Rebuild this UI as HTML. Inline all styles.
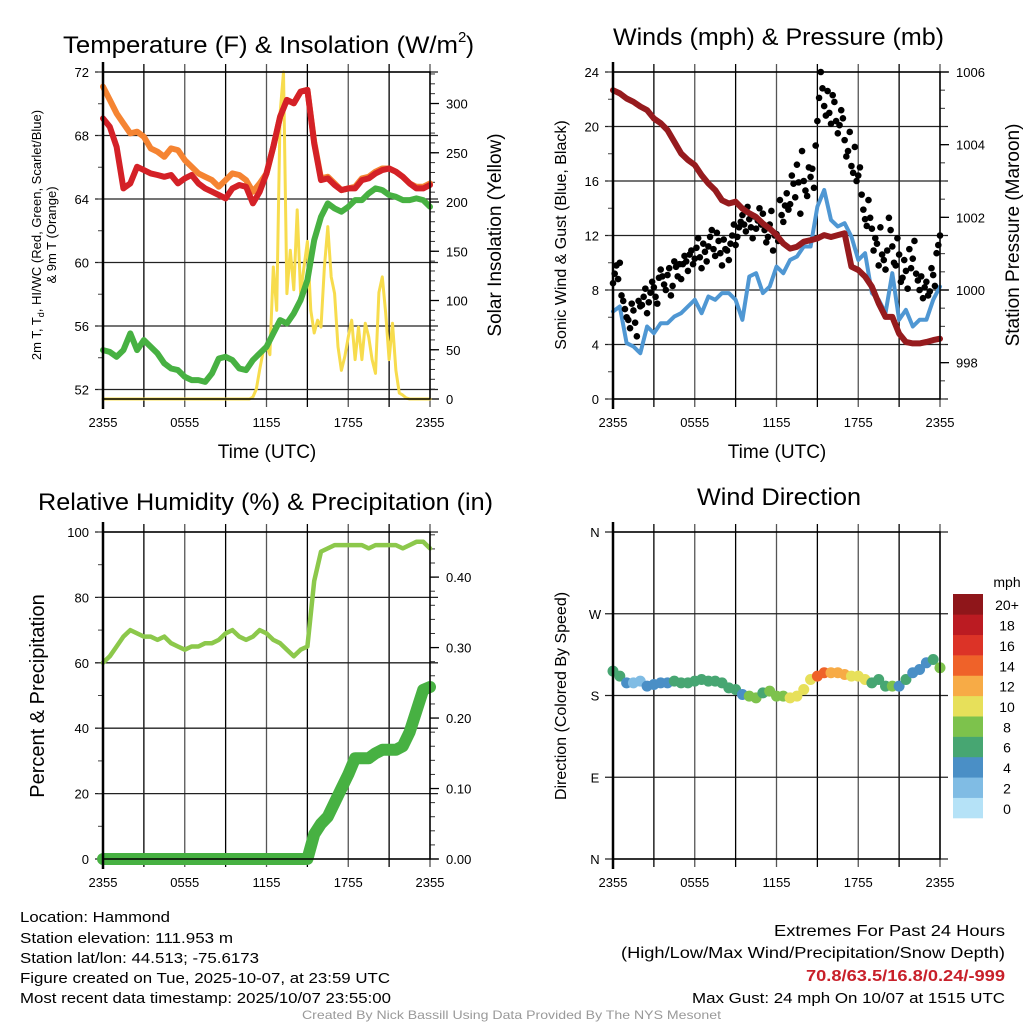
<!DOCTYPE html>
<html><head><meta charset="utf-8"><style>
html,body{margin:0;padding:0;background:#fff;}
svg{display:block;font-family:"Liberation Sans",sans-serif;}
</style></head><body>
<svg id="chart" width="1024" height="1024" viewBox="0 0 1024 1024" xmlns="http://www.w3.org/2000/svg">
<rect width="1024" height="1024" fill="#fff"/>
<g id="layer"></g>
<text x="63" y="53" font-size="24" textLength="395" lengthAdjust="spacingAndGlyphs">Temperature (F) &amp; Insolation (W/m</text>
<text x="458" y="42" font-size="15">2</text>
<text x="466" y="53" font-size="24">)</text>
<text x="613" y="45" font-size="24" textLength="331" lengthAdjust="spacingAndGlyphs">Winds (mph) &amp; Pressure (mb)</text>
<text x="38" y="510" font-size="24" textLength="455" lengthAdjust="spacingAndGlyphs">Relative Humidity (%) &amp; Precipitation (in)</text>
<text x="697" y="505" font-size="24" textLength="164" lengthAdjust="spacingAndGlyphs">Wind Direction</text>
<text x="267" y="458" font-size="19" text-anchor="middle">Time (UTC)</text>
<text x="777" y="458" font-size="19" text-anchor="middle">Time (UTC)</text>
<text transform="translate(41,235) rotate(-90)" font-size="13" text-anchor="middle">2m T, T<tspan font-size="9" dy="3">d</tspan><tspan dy="-3">, HI/WC (Red, Green, Scarlet/Blue)</tspan></text>
<text transform="translate(56,235) rotate(-90)" font-size="13" text-anchor="middle">&amp; 9m T (Orange)</text>
<text transform="translate(501,235) rotate(-90)" font-size="19" text-anchor="middle">Solar Insolation (Yellow)</text>
<text transform="translate(566,235) rotate(-90)" font-size="16" text-anchor="middle">Sonic Wind &amp; Gust (Blue, Black)</text>
<text transform="translate(1019,235) rotate(-90)" font-size="19" text-anchor="middle">Station Pressure (Maroon)</text>
<text transform="translate(44,696) rotate(-90)" font-size="20" text-anchor="middle">Percent &amp; Precipitation</text>
<text transform="translate(566,696) rotate(-90)" font-size="16" text-anchor="middle">Direction (Colored By Speed)</text>
<text x="1007" y="587" font-size="14" text-anchor="middle">mph</text>
<g font-size="14.5">
<text x="20" y="922" textLength="150" lengthAdjust="spacingAndGlyphs">Location: Hammond</text>
<text x="20" y="943" textLength="213" lengthAdjust="spacingAndGlyphs">Station elevation: 111.953 m</text>
<text x="20" y="963" textLength="239" lengthAdjust="spacingAndGlyphs">Station lat/lon: 44.513; -75.6173</text>
<text x="20" y="983" textLength="370" lengthAdjust="spacingAndGlyphs">Figure created on Tue, 2025-10-07, at 23:59 UTC</text>
<text x="20" y="1003" textLength="371" lengthAdjust="spacingAndGlyphs">Most recent data timestamp: 2025/10/07 23:55:00</text>
</g>
<g font-size="16">
<text x="1005" y="936" text-anchor="end" textLength="231" lengthAdjust="spacingAndGlyphs">Extremes For Past 24 Hours</text>
<text x="1005" y="958" text-anchor="end" textLength="384" lengthAdjust="spacingAndGlyphs">(High/Low/Max Wind/Precipitation/Snow Depth)</text>
<text x="1005" y="981" text-anchor="end" fill="#c8202a" font-weight="bold" textLength="199" lengthAdjust="spacingAndGlyphs">70.8/63.5/16.8/0.24/-999</text>
<text x="1005" y="1003" text-anchor="end" font-size="15" textLength="313" lengthAdjust="spacingAndGlyphs">Max Gust: 24 mph On 10/07 at 1515 UTC</text>
</g>
<text x="302" y="1019" font-size="12" fill="#999" textLength="419" lengthAdjust="spacingAndGlyphs">Created By Nick Bassill Using Data Provided By The NYS Mesonet</text>
</svg>
<script>
// ---- data (half-hourly from 2355 prev day to 2355) ----
const xTickLabels = ["2355","0555","1155","1755","2355"];
const tempTicks = [52,56,60,64,68,72];
const solarTicks = [0,50,100,150,200,250,300];
const windTicks = [0,4,8,12,16,20,24];
const pressTicks = [998,1000,1002,1004,1006];
const rhTicks = [0,20,40,60,80,100];
const precipTicks = ["0.00","0.10","0.20","0.30","0.40"];
const dirTickLabels = ["N","E","S","W","N"];
const colorLabels = ["0","2","4","6","8","10","12","14","16","18","20+"];
const colorBins = ["#b5e2f7","#80bce4","#4a8fc6","#47a672","#7dc24c","#e7e05a","#f7ab46","#ef6229","#dc3327","#bb1b22","#8f161a"];

const temp2m = [69.08,68.55,67.29,64.67,64.98,66.03,65.82,65.61,65.51,65.40,65.51,64.98,65.30,65.51,64.98,64.67,64.46,64.25,64.04,64.67,64.88,64.77,63.72,64.46,65.61,67.29,69.18,70.24,70.03,70.76,70.87,67.50,65.19,65.30,64.88,64.56,64.67,64.67,65.19,65.30,65.61,65.82,65.92,65.72,65.40,64.98,64.67,64.67,64.88];
const temp9m = [71.08,70.24,69.39,68.76,68.13,68.24,67.92,67.19,66.98,66.66,67.19,67.08,66.45,66.03,65.61,65.40,65.19,64.77,65.19,65.61,65.51,65.19,64.46,64.98,65.61,67.29,69.18,70.24,70.03,70.76,70.87,67.60,65.30,65.40,64.98,64.56,64.67,64.77,65.30,65.40,65.72,65.92,65.92,65.72,65.40,64.98,64.77,64.77,64.98];
const dewpoint = [54.48,54.37,54.06,54.48,55.53,54.48,55.11,54.69,54.27,53.64,53.32,53.22,52.80,52.59,52.59,52.48,53.01,53.95,54.06,53.85,53.32,53.22,53.85,54.27,54.69,55.53,56.37,56.16,56.79,57.63,58.89,61.41,62.88,63.72,63.41,63.20,63.51,63.93,63.93,64.35,64.67,64.56,64.25,64.14,63.93,63.93,64.04,63.93,63.51];
// solar at 15-minute resolution (97 values)
const solar = [0,0,0,0,0,0,0,0,0,0,0,0,0,0,0,0,0,0,0,0,0,0,0,0,0,0,0,0,0,0,0,0,0,0,0,0,0,0,0,0,0,0,0,0,2,10,30,48,55,45,134,90,290,332,107,151,111,192,107,134,160,90,67,80,73,134,175,124,107,53,29,43,63,80,40,73,40,77,63,40,26,108,124,87,40,77,29,6,4,1,0,0,0,0,0,0,0];

const windSpeed = [6.42,6.79,4.10,3.85,3.36,5.32,4.83,5.56,5.56,6.05,6.30,6.79,7.28,6.30,7.52,7.28,7.77,7.77,7.28,5.81,8.99,9.23,7.77,8.25,9.72,9.23,10.21,10.45,11.19,11.19,14.12,15.34,13.14,12.66,12.90,11.92,10.21,10.70,7.77,7.28,6.30,9.23,5.81,6.54,5.32,5.81,5.81,7.28,8.25];
// gusts at 15-minute resolution (97 values) and offset samples (96 values)
const gust = [8.5,9.8,10.0,7.2,6.0,5.2,6.5,4.6,6.8,7.5,6.3,7.8,8.2,7.0,9.5,8.4,9.1,7.6,10.1,9.0,8.8,10.5,9.4,10.9,10.3,11.8,9.6,10.8,11.2,12.4,10.5,11.6,9.8,11.0,10.2,12.0,11.3,12.6,13.5,12.3,13.2,11.8,12.5,14.0,13.6,11.5,12.8,10.9,12.1,14.6,13.0,15.1,14.3,15.8,17.2,13.6,16.0,14.9,16.3,15.5,20.4,24.0,21.5,22.6,20.2,21.8,19.5,21.2,19.0,18.2,17.1,18.5,16.4,15.0,13.2,14.6,12.5,11.8,9.8,10.6,9.5,13.3,11.2,9.8,10.6,8.9,9.4,11.0,10.3,9.2,8.0,7.4,8.6,7.9,9.1,10.7,12.0];
const gust2 = [9.2,8.8,7.6,6.6,5.8,7.0,5.6,7.2,6.9,8.1,7.1,8.6,7.5,8.9,9.0,8.0,9.6,8.3,9.7,9.9,9.9,10.1,10.6,9.9,11.1,10.4,11.4,10.1,11.9,11.0,12.2,10.7,11.7,10.9,11.4,12.8,11.9,13.0,12.8,14.1,12.6,13.4,13.1,12.8,12.4,11.9,13.8,12.0,11.6,13.5,14.2,13.9,16.4,14.8,15.9,18.2,15.3,17.0,16.9,18.6,22.1,22.8,20.8,21.0,22.3,20.4,20.1,20.6,17.8,19.6,16.6,16.0,17.0,13.9,12.7,13.3,10.9,11.4,12.6,10.2,10.9,12.4,10.0,11.8,8.6,10.2,8.1,9.6,11.6,8.7,9.0,8.2,7.6,9.6,8.3,11.3];
const pressure = [1005.50,1005.41,1005.27,1005.18,1005.05,1004.95,1004.72,1004.59,1004.40,1004.08,1003.76,1003.58,1003.44,1003.16,1002.93,1002.75,1002.47,1002.38,1002.43,1002.24,1002.11,1002.01,1001.83,1001.69,1001.51,1001.28,1001.14,1001.19,1001.33,1001.37,1001.42,1001.51,1001.46,1001.51,1001.56,1000.64,1000.55,1000.37,1000.09,999.63,999.26,999.26,998.80,998.57,998.53,998.53,998.57,998.62,998.66];

const rh = [60,62,65,68,70,69,68,68,67,68,66,65,64,65,65,66,66,67,69,70,68,67,68,70,69,67,66,64,62,64,65,85,94,95,96,96,96,96,96,95,96,96,96,96,95,96,97,97,95];
const precip = [0,0,0,0,0,0,0,0,0,0,0,0,0,0,0,0,0,0,0,0,0,0,0,0,0,0,0,0,0,0,0,0.035,0.05,0.06,0.08,0.10,0.12,0.143,0.143,0.143,0.15,0.155,0.155,0.155,0.16,0.18,0.21,0.24,0.244];

const windDir = [206.8,201.3,193.9,193.9,195.8,190.3,192.1,193.9,193.9,195.8,193.9,193.9,195.8,197.6,195.8,195.8,193.9,188.4,186.6,181.1,179.3,177.4,182.9,184.8,179.3,179.3,177.4,179.3,186.6,197.6,201.3,205.0,205.0,205.0,203.1,201.3,201.3,197.6,193.9,197.6,190.3,190.3,190.3,197.6,205.0,208.6,216.0,219.6,210.5];

// ---- helpers ----
const NS = "http://www.w3.org/2000/svg";
const layer = document.getElementById("layer");
function mk(tag, attrs, parent){
  const e = document.createElementNS(NS, tag);
  for (const k in attrs) e.setAttribute(k, attrs[k]);
  (parent||layer).appendChild(e);
  return e;
}
function linScale(d0,d1,r0,r1){ return v => r0 + (v-d0)*(r1-r0)/(d1-d0); }

const P = {
  tl:{x0:103,x1:430,y0:72,y1:399},
  tr:{x0:613,x1:940,y0:72,y1:399},
  bl:{x0:103,x1:430,y0:532,y1:859},
  br:{x0:613,x1:940,y0:532,y1:859}
};

function frame(p, name){
  const g = mk("g",{});
  
  
  for (let k=0;k<=8;k++){
    const x = p.x0 + k*(p.x1-p.x0)/8;
    mk("line",{x1:x,x2:x,y1:p.y0-8,y2:p.y1+8,stroke:k%2? "#000":"#555","stroke-width":1.3},g);
  }
  return g;
}
function hgrid(p, ys, g){
  ys.forEach(y=>mk("line",{x1:p.x0-8,x2:p.x1+8,y1:y,y2:y,stroke:"#222","stroke-width":1.3},g));
}
function border(p, name){
  const r = mk("rect",{x:p.x0,y:p.y0,width:p.x1-p.x0,height:p.y1-p.y0,fill:"none",stroke:"#000","stroke-width":1.5});
  
  
  mk("line",{x1:p.x0,x2:p.x0,y1:p.y0-10,y2:p.y1+10,stroke:"#000","stroke-width":2.5});
}
function xLabels(p, name){
  xTickLabels.forEach((t,k)=>{
    const x = p.x0 + k*(p.x1-p.x0)/4;
    const e = mk("text",{x:x,y:p.y1+28,"font-size":13,"text-anchor":"middle"});
    
    
    e.textContent = t;
  });
}
function yLabels(vals, sy, x, anchor, name, fmt){
  vals.forEach(v=>{
    const e = mk("text",{x:x,y:sy(+v)+5,"font-size":13,"text-anchor":anchor});
    
    
    e.textContent = fmt? fmt(v): v;
  });
}
function rightTicks(p, sy, vals, minorStep, lo, hi){
  for (let v=lo; v<=hi+1e-9; v+=minorStep){
    const y = sy(v); if (y<p.y0-0.5||y>p.y1+0.5) continue;
    mk("line",{x1:p.x1,x2:p.x1+5,y1:y,y2:y,stroke:"#333","stroke-width":1});
  }
  vals.forEach(v=>{ const y=sy(+v); mk("line",{x1:p.x1,x2:p.x1+9,y1:y,y2:y,stroke:"#000","stroke-width":1.3}); });
}
function leftMinor(p, sy, lo, hi, step){
  for (let v=lo; v<=hi+1e-9; v+=step){
    const y=sy(v); if (y<p.y0||y>p.y1) continue;
    mk("line",{x1:p.x0-5,x2:p.x0,y1:y,y2:y,stroke:"#444","stroke-width":1});
  }
}
function linePath(vals, sx, sy, attrs, name){
  let d=""; vals.forEach((v,i)=>{ d += (i?"L":"M")+sx(i).toFixed(1)+","+sy(v).toFixed(1); });
  const e = mk("path",Object.assign({d:d,fill:"none","stroke-linejoin":"round","stroke-linecap":"round"},attrs));
  
  
  return e;
}

// ---- Panel 1: temperature ----
(function(){
  const p=P.tl;
  const sx = linScale(0,48,p.x0,p.x1), sx15 = linScale(0,96,p.x0,p.x1);
  const sy = linScale(72,51.4,p.y0,p.y1);
  const sySol = linScale(0,332,p.y1,p.y0);
  const g = frame(p,"temp");
  hgrid(p, tempTicks.map(sy), g);
  leftMinor(p, sy, 52, 72, 2);
  rightTicks(p, sySol, solarTicks, 10, 0, 330);
  linePath(solar, sx15, sySol, {stroke:"#f7dc4d","stroke-width":3}, "solar-insolation-line");
  linePath(dewpoint, sx, sy, {stroke:"#47b142","stroke-width":6}, "dewpoint-line");
  linePath(temp9m, sx, sy, {stroke:"#f58432","stroke-width":6}, "temp-9m-line");
  linePath(temp2m, sx, sy, {stroke:"#d42127","stroke-width":6}, "temp-2m-line");
  border(p,"temp");
  xLabels(p,"temp");
  yLabels(tempTicks, sy, p.x0-14, "end", "temp-y-tick-label");
  yLabels(solarTicks, sySol, p.x1+16, "start", "solar-y-tick-label");
})();

// ---- Panel 2: wind & pressure ----
(function(){
  const p=P.tr;
  const sx = linScale(0,48,p.x0,p.x1), sx15 = linScale(0,96,p.x0,p.x1);
  const sy = linScale(0,24,p.y1,p.y0);
  const syP = linScale(997.0,1006,p.y1,p.y0);
  const g = frame(p,"wind");
  hgrid(p, windTicks.map(sy), g);
  leftMinor(p, sy, 0, 24, 2);
  rightTicks(p, syP, pressTicks, 0.5, 997, 1006);
  linePath(windSpeed, sx, sy, {stroke:"#4f97d3","stroke-width":4}, "sonic-wind-line");
  gust.forEach((v,i)=>{
    const c = mk("circle",{cx:sx15(i),cy:sy(v),r:3.3,fill:"#000"});
    
    
  });
  gust2.forEach((v,i)=>{
    const c = mk("circle",{cx:sx15(i+0.5),cy:sy(v),r:3.3,fill:"#000"});
    
    
  });
  linePath(pressure, sx, syP, {stroke:"#961b1e","stroke-width":6}, "pressure-line");
  border(p,"wind");
  xLabels(p,"wind");
  yLabels(windTicks, sy, p.x0-14, "end", "wind-y-tick-label");
  yLabels(pressTicks, syP, p.x1+16, "start", "pressure-y-tick-label");
})();

// ---- Panel 3: RH & precip ----
(function(){
  const p=P.bl;
  const sx = linScale(0,48,p.x0,p.x1);
  const sy = linScale(0,100,p.y1,p.y0);
  const syPr = linScale(0,0.464,p.y1,p.y0);
  const g = frame(p,"rh");
  hgrid(p, rhTicks.map(sy), g);
  leftMinor(p, sy, 0, 100, 10);
  rightTicks(p, syPr, precipTicks, 0.02, 0, 0.46);
  linePath(rh, sx, sy, {stroke:"#8cc84b","stroke-width":4.5}, "relative-humidity-line");
  linePath(precip, sx, syPr, {stroke:"#47b142","stroke-width":12}, "precipitation-line");
  border(p,"rh");
  xLabels(p,"rh");
  yLabels(rhTicks, sy, p.x0-14, "end", "rh-y-tick-label");
  yLabels(precipTicks, syPr, p.x1+16, "start", "precip-y-tick-label");
})();

// ---- Panel 4: wind direction ----
(function(){
  const p=P.br;
  const sx = linScale(0,48,p.x0,p.x1);
  const sy = linScale(0,360,p.y1,p.y0);
  const g = frame(p,"direction");
  hgrid(p, [0,90,180,270,360].map(sy), g);
  function colorFor(s){ const k=Math.min(10,Math.max(0,Math.floor(s/2))); return colorBins[k]; }
  windDir.forEach((v,i)=>{
    const c = mk("circle",{cx:sx(i),cy:sy(v),r:5.5,fill:colorFor(windSpeed[i])});
    
    
  });
  border(p,"direction");
  xLabels(p,"direction");
  dirTickLabels.forEach((t,k)=>{
    const e = mk("text",{x:p.x0-18,y:sy(k*90)+5,"font-size":13,"text-anchor":"middle"});
    
    
    e.textContent = t;
  });
  const cb = mk("g",{});
  
  
  const top=594, bot=818, h=(bot-top)/colorBins.length;
  colorBins.forEach((c,k)=>{
    const y = bot - (k+1)*h;
    const r = mk("rect",{x:953,y:y,width:30,height:h+0.3,fill:c},cb);
    
    
    const t = mk("text",{x:1007,y:y+h/2+6,"font-size":14,"text-anchor":"middle"},cb);
    
    
    t.textContent = colorLabels[k];
  });
})();
</script>
</body></html>
